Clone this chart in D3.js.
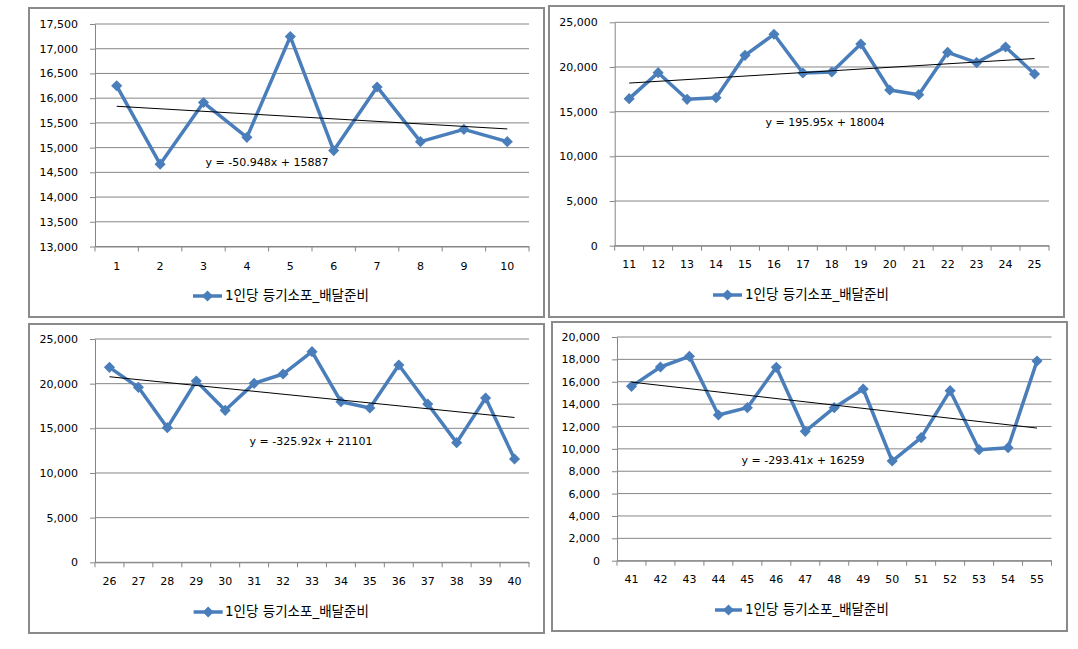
<!DOCTYPE html>
<html>
<head>
<meta charset="utf-8">
<script src="https://cdn.jsdelivr.net/npm/d3@7"></script>
<style>
  body { margin: 0; background: #fff; }
  svg text { font-family: "DejaVu Sans", "Noto Sans CJK KR", sans-serif; fill: #000; }
</style>
</head>
<body>
<div id="graph"></div>
<script>
const width = 1078,
    height = 649;

// data
const cats1 = [1, 2, 3, 4, 5, 6, 7, 8, 9, 10];
const vals1 = [16250, 14665, 15912, 15208, 17245, 14940, 16227, 15121, 15369, 15121];
const ticks1 = [13000, 13500, 14000, 14500, 15000, 15500, 16000, 16500, 17000, 17500];

const cats2 = [11, 12, 13, 14, 15, 16, 17, 18, 19, 20, 21, 22, 23, 24, 25];
const vals2 = [16455, 19364, 16380, 16567, 21305, 23657, 19328, 19440, 22574, 17425, 16902, 21641, 20484, 22238, 19216];
const ticks2 = [0, 5000, 10000, 15000, 20000, 25000];

const cats3 = [26, 27, 28, 29, 30, 31, 32, 33, 34, 35, 36, 37, 38, 39, 40];
const vals3 = [21826, 19588, 15073, 20297, 17013, 20035, 21080, 23580, 17983, 17274, 22088, 17722, 13394, 18394, 11566];
const ticks3 = [0, 5000, 10000, 15000, 20000, 25000];

const cats4 = [41, 42, 43, 44, 45, 46, 47, 48, 49, 50, 51, 52, 53, 54, 55];
const vals4 = [15589, 17317, 18271, 13025, 13681, 17287, 11565, 13681, 15350, 8912, 10998, 15201, 9925, 10104, 17854];
const ticks4 = [0, 2000, 4000, 6000, 8000, 10000, 12000, 14000, 16000, 18000, 20000];

// linear trend lines (slope, intercept) as printed on the charts
const slopes = [-50.948, 195.95, -325.92, -293.41];
const intercepts = [15887, 18004, 21101, 16259];

const seriesName = "1인당 등기소포_배달준비";

// layout of the four charts
const panels = [
  { cats: cats1, vals: vals1, ticks: ticks1, box: [29, 8, 544, 317], plot: [95, 24, 529, 246.5],
    labY: 266, legY: 296, legX: [193, 222, 225], eq: [267, 163] },
  { cats: cats2, vals: vals2, ticks: ticks2, box: [549, 6, 1064, 317], plot: [614.7, 22.3, 1049, 245.7],
    labY: 264, legY: 295, legX: [713, 742, 745], eq: [825, 123] },
  { cats: cats3, vals: vals3, ticks: ticks3, box: [29, 324, 544, 633], plot: [95, 339, 529, 562.3],
    labY: 581, legY: 612, legX: [193.6, 222.7, 225], eq: [311, 442] },
  { cats: cats4, vals: vals4, ticks: ticks4, box: [552, 322, 1067, 631], plot: [617, 337, 1051.5, 560.7],
    labY: 579, legY: 610, legX: [715, 742, 745], eq: [803, 461] }
];

const blue = "#4a7ebb",
    grey = "#868686";

const svg = d3.select("#graph")
    .append("svg")
    .attr("width", width)
    .attr("height", height);

const diamond = d3.symbol().type(d3.symbolSquare).size(62);

panels.forEach(function (p, k) {
    const g = svg.append("g");
    const [left, top, right, bottom] = p.plot;

    // chart border
    g.append("rect")
        .attr("x", p.box[0]).attr("y", p.box[1])
        .attr("width", p.box[2] - p.box[0]).attr("height", p.box[3] - p.box[1])
        .attr("fill", "#fff")
        .attr("stroke", "#8a8a8a")
        .attr("stroke-width", 2);

    const x = d3.scaleBand().domain(p.cats).range([left, right]).padding(0);
    const y = d3.scaleLinear().domain(d3.extent(p.ticks)).range([bottom, top]);
    const cx = function (c) { return x(c) + x.bandwidth() / 2; };

    // horizontal gridlines
    g.selectAll(".grid")
        .data(p.ticks)
        .enter()
        .append("line")
        .attr("x1", left).attr("x2", right)
        .attr("y1", function (d) { return y(d); })
        .attr("y2", function (d) { return y(d); })
        .attr("stroke", grey)
        .attr("stroke-width", 1);

    // y axis
    const yAxis = d3.axisLeft(y)
        .tickValues(p.ticks)
        .tickSize(5)
        .tickSizeOuter(0)
        .tickPadding(12)
        .tickFormat(d3.format(","));
    const ya = g.append("g")
        .attr("transform", "translate(" + left + ",0)")
        .call(yAxis);
    ya.selectAll("path, line").attr("stroke", grey);
    ya.selectAll("text")
        .style("font-size", "11px")
        .style("font-family", "DejaVu Sans");

    // x axis: labels centred in bands, ticks at the band edges
    const xAxis = d3.axisBottom(x).tickSize(0).tickSizeOuter(0).tickPadding(p.labY - bottom - 3.8);
    const xa = g.append("g")
        .attr("transform", "translate(0," + bottom + ")")
        .call(xAxis);
    xa.select(".domain").attr("stroke", grey);
    xa.selectAll("text")
        .style("font-size", "11px")
        .style("font-family", "DejaVu Sans");
    g.selectAll(".xtick")
        .data(d3.range(p.cats.length + 1))
        .enter()
        .append("line")
        .attr("x1", function (i) { return left + i * x.step(); })
        .attr("x2", function (i) { return left + i * x.step(); })
        .attr("y1", bottom).attr("y2", bottom + 5)
        .attr("stroke", grey);

    // the series
    const line = d3.line()
        .x(function (d, i) { return cx(p.cats[i]); })
        .y(function (d) { return y(d); });
    g.append("path")
        .datum(p.vals)
        .attr("d", line)
        .attr("fill", "none")
        .attr("stroke", blue)
        .attr("stroke-width", 3.5)
        .attr("stroke-linejoin", "round");
    g.selectAll(".mark")
        .data(p.vals)
        .enter()
        .append("path")
        .attr("d", diamond)
        .attr("transform", function (d, i) {
            return "translate(" + cx(p.cats[i]) + "," + y(d) + ") rotate(45)";
        })
        .attr("fill", blue);

    // trend line
    const n = p.cats.length;
    g.append("line")
        .attr("x1", cx(p.cats[0]))
        .attr("y1", y(slopes[k] * 1 + intercepts[k]))
        .attr("x2", cx(p.cats[n - 1]))
        .attr("y2", y(slopes[k] * n + intercepts[k]))
        .attr("stroke", "#000")
        .attr("stroke-width", 1);

    const sign = intercepts[k] >= 0 ? " + " : " - ";
    g.append("text")
        .attr("x", p.eq[0]).attr("y", p.eq[1])
        .attr("text-anchor", "middle")
        .attr("dominant-baseline", "middle")
        .style("font-size", "11px")
        .text("y = " + slopes[k] + "x" + sign + Math.abs(intercepts[k]));

    // legend
    g.append("line")
        .attr("x1", p.legX[0]).attr("x2", p.legX[1])
        .attr("y1", p.legY).attr("y2", p.legY)
        .attr("stroke", blue)
        .attr("stroke-width", 3.5);
    g.append("path")
        .attr("d", diamond)
        .attr("transform", "translate(" + (p.legX[0] + p.legX[1]) / 2 + "," + p.legY + ") rotate(45)")
        .attr("fill", blue);
    g.append("text")
        .attr("x", p.legX[2]).attr("y", p.legY)
        .attr("dominant-baseline", "middle")
        .style("font-size", "13.5px")
        .text(seriesName);
});
</script>
</body>
</html>
